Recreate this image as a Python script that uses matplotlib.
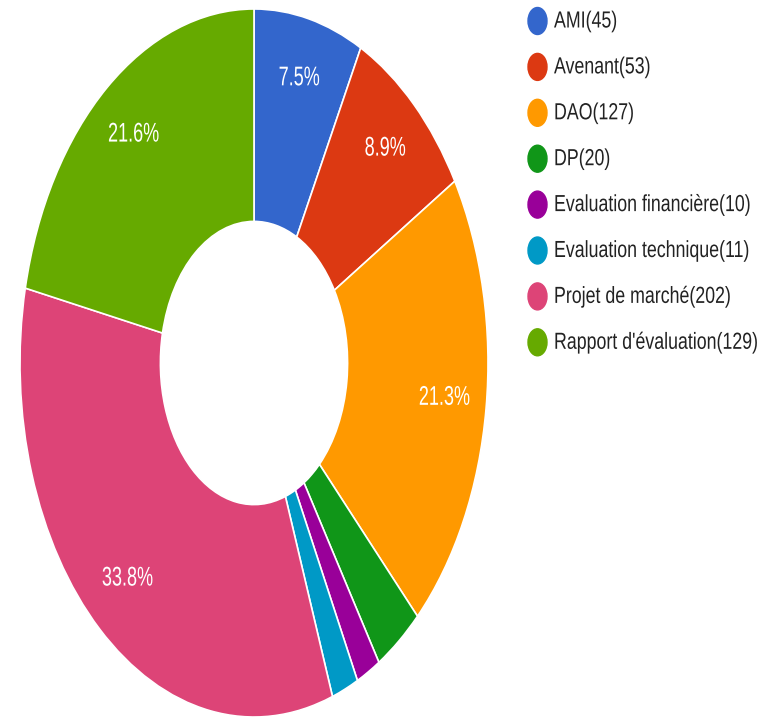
import numpy as np
import matplotlib
matplotlib.use('Agg')
import matplotlib.pyplot as plt
import matplotlib.patheffects as pe
from matplotlib.patches import Ellipse
from matplotlib.transforms import Affine2D

categories = ['AMI', 'Avenant', 'DAO', 'DP', 'Evaluation financière',
              'Evaluation technique', 'Projet de marché', "Rapport d'évaluation"]
counts = [45, 53, 127, 20, 10, 11, 202, 129]
colors = ['#3366cc', '#dc3912', '#ff9900', '#109618', '#990099',
          '#0099c6', '#dd4477', '#66aa00']

plt.rcParams['font.family'] = ['Liberation Sans', 'DejaVu Sans']


class Tall(pe.AbstractPathEffect):
    # stretch glyphs vertically around their baseline (the reference is squashed)
    def __init__(self, sy):
        super().__init__()
        self.sy = sy

    def draw_path(self, renderer, gc, tpath, affine, rgbFace=None):
        m = affine.get_matrix()
        x0, y0 = m[0, 2], m[1, 2]
        aff = affine + Affine2D().translate(-x0, -y0).scale(1, self.sy).translate(x0, y0)
        renderer.draw_path(gc, tpath, aff, rgbFace)


W, H = 774, 718
fig = plt.figure(figsize=(W / 100, H / 100), dpi=100)

ax = fig.add_axes([20 / W, 1 / H, 468 / W, 708 / H])
wedges, texts, autotexts = ax.pie(
    counts, colors=colors, startangle=90, counterclock=False,
    autopct=lambda p: '%.1f%%' % p if p > 5 else '', pctdistance=0.82,
    wedgeprops=dict(width=0.6, edgecolor='white', linewidth=1.2))
for t in autotexts:
    t.set_color('white')
    t.set_fontsize(13)
    t.set_path_effects([Tall(1.5)])
ax.set_aspect('auto')
ax.set_xlim(-1, 1)
ax.set_ylim(-1, 1)

# legend drawn in pixel coordinates
lg = fig.add_axes([0, 0, 1, 1])
lg.set_xlim(0, W)
lg.set_ylim(H, 0)
lg.axis('off')
for i, (c, n, col) in enumerate(zip(categories, counts, colors)):
    y = 21 + i * 45.9
    lg.add_patch(Ellipse((537.5, y), 19, 27, color=col))
    lg.text(554, y + 6.5, '%s(%d)' % (c, n), fontsize=12.8, color='#222222',
            va='baseline', ha='left', path_effects=[Tall(1.31)])

fig.savefig('out.png', dpi=100, facecolor='white')
